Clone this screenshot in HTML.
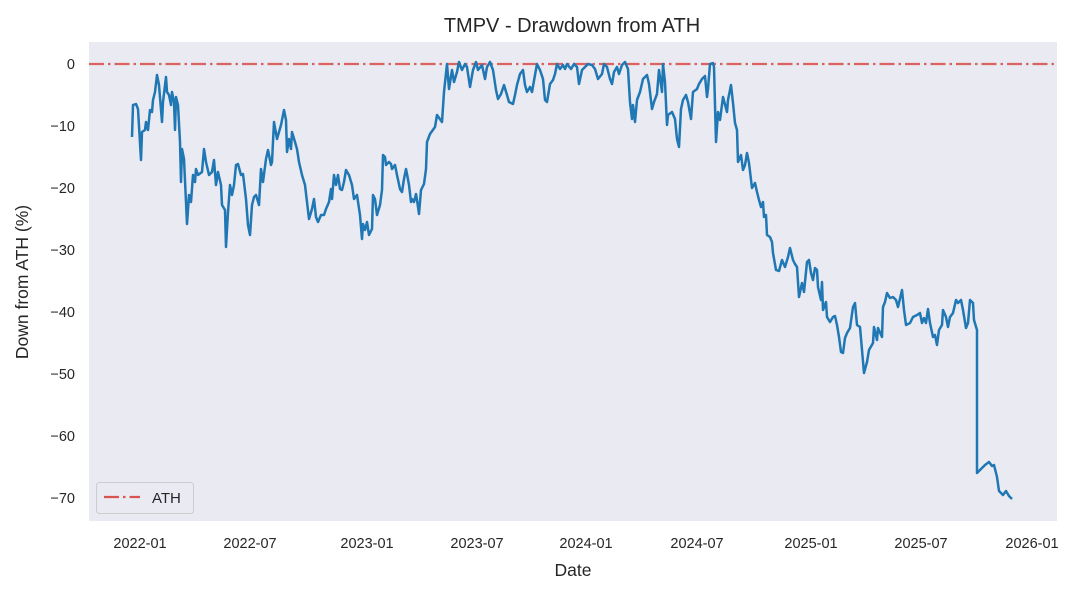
<!DOCTYPE html>
<html><head><meta charset="utf-8"><style>
html,body{margin:0;padding:0;background:#fff;}
svg{display:block;font-family:"Liberation Sans","DejaVu Sans",sans-serif;}
</style></head><body>
<svg width="1073" height="592" viewBox="0 0 1073 592" xmlns="http://www.w3.org/2000/svg">
<rect x="0" y="0" width="1073" height="592" fill="#fff"/>
<rect x="89" y="42" width="968" height="479" fill="#eaeaf2"/>
<text x="572" y="32" font-size="20" text-anchor="middle" fill="#262626">TMPV - Drawdown from ATH</text>
<g font-size="14.5" fill="#262626" text-anchor="end">
<text x="75" y="69">0</text>
<text x="75" y="131">−10</text>
<text x="75" y="193">−20</text>
<text x="75" y="255">−30</text>
<text x="75" y="317">−40</text>
<text x="75" y="379">−50</text>
<text x="75" y="441">−60</text>
<text x="75" y="503">−70</text>
</g>
<g font-size="14.5" fill="#262626" text-anchor="middle">
<text x="140" y="548">2022-01</text>
<text x="250" y="548">2022-07</text>
<text x="367" y="548">2023-01</text>
<text x="477" y="548">2023-07</text>
<text x="586" y="548">2024-01</text>
<text x="697" y="548">2024-07</text>
<text x="811" y="548">2025-01</text>
<text x="921" y="548">2025-07</text>
<text x="1032" y="548">2026-01</text>
</g>
<text x="573" y="576" font-size="17.5" text-anchor="middle" fill="#262626">Date</text>
<text transform="translate(28,282) rotate(-90)" font-size="17.5" text-anchor="middle" fill="#262626">Down from ATH (%)</text>
<line x1="89" y1="64" x2="1057" y2="64" stroke="#d9534f" stroke-opacity="0.9" stroke-width="2.2" stroke-dasharray="15,4,2.5,4"/>
<polyline fill="none" stroke="#1f77b4" stroke-width="2.5" stroke-linejoin="round" points="
132,137 133,105 136,104 138,109 141,160 142,132 145,130 146,122 148,130 150,110 152,112 153,100 155,92 157,75 159,85 162,122 163,102 166,77 167,92 169,95 171,105 172,92 174,102 175,130 176,97 178,105 180,142 181,182 182,149 184,159 187,224 189,195 191,202 193,175 195,182 196,169 198,175 202,172 204,149 206,162 209,175 212,172 214,160 216,185 218,172 221,185 222,205 225,210 226,247 228,212 230,185 232,195 234,185 236,165 238,164 241,175 243,174 246,199 248,225 250,235 252,205 254,197 256,195 259,205 261,169 263,182 266,159 268,150 271,165 272,162 274,122 277,139 281,125 284,110 286,120 287,152 289,139 291,149 292,132 295,142 297,149 299,162 302,175 305,185 307,202 309,219 312,209 314,199 316,217 318,222 321,215 324,215 326,209 329,202 331,189 332,199 334,175 336,185 338,175 340,189 342,190 344,182 346,170 349,175 352,185 354,199 357,195 360,215 362,239 363,224 365,230 367,222 369,235 372,229 373,195 375,199 377,215 380,205 382,190 383,155 385,157 386,165 389,162 391,164 392,169 395,165 397,175 400,189 402,192 404,179 406,169 407,174 409,185 411,202 412,199 414,202 416,194 417,200 419,214 421,190 424,184 426,169 427,142 430,134
435,127 437,115 442,122 444,92 447,64 449,89 452,70 454,82 457,72 459,62 462,70 465,64 467,67 470,87 473,70 476,62 478,70 482,65 485,79 487,67 490,62 493,70 496,90 498,99 501,94 504,85 507,95 509,102 513,104 515,95 517,85 520,74 523,70 525,85 527,92 530,87 532,92 535,75 537,64 540,70 543,79 545,100 547,102 550,84 553,80 555,74 557,64 560,69 563,65 565,69 567,64 571,69 574,64 577,67 579,84 582,70 585,67 588,64 592,65 595,69 598,79 602,74 604,64 607,67 610,79 612,84 614,72 617,67 619,74 622,65 625,62 628,69 630,102 632,119 633,105 635,122 637,100 640,92 643,79 647,75 649,84 652,109 654,102 657,94 659,70 662,92 663,64 665,82 667,125 668,115 672,112 675,119 677,139 679,147 681,109 683,100 686,95 688,102 691,119 693,92 697,89 699,84 702,79 705,76 707,97 708,89 710,64 713,63 714,67 716,142 718,112 720,120
723,97 727,112 728,100 731,85 733,103 735,123 737,130 738,162 741,155 743,170 745,165 747,153 749,163 752,188 755,183 757,192 759,200 761,207 763,202 764,217 766,215 767,235 770,237 772,242 773,253 776,270 779,271 782,260 785,267 788,257 790,248 793,260 795,264 797,267 799,297 802,283 804,292 807,262 809,260 811,273 813,280 815,268 817,270 818,287 821,300 822,282 823,310 826,302 827,317 830,322 833,317 835,316 837,325 839,337 841,352 843,353 845,338 847,333 850,328 853,307 855,303 857,325 860,327 862,350 864,373 867,362 869,350 873,343 874,327 877,340 878,328 882,337 883,307 885,302 887,293 890,298 893,297 896,300 898,307 902,290 904,310 906,325 910,323 913,317 917,315 920,313 922,323 924,318 926,323 928,309 930,323 933,337 935,335 937,345 939,330 942,325 943,310 946,317 948,327 950,317 953,313 956,300 958,303 961,300 963,310 966,328 968,323 970,300 973,303 974,320 977,330 977,473 980,470 985,465 989,462 992,466 994,465 997,477 999,491 1003,495 1006,491 1009,496 1012,499"/>
<rect x="96.5" y="482.5" width="97" height="31" rx="3" fill="#eaeaf2" fill-opacity="0.8" stroke="#cccccc"/>
<line x1="104" y1="497" x2="140" y2="497" stroke="#d9534f" stroke-width="2.2" stroke-dasharray="15,4,2.5,4"/>
<text x="152" y="503" font-size="15" fill="#262626">ATH</text>
</svg>
</body></html>
